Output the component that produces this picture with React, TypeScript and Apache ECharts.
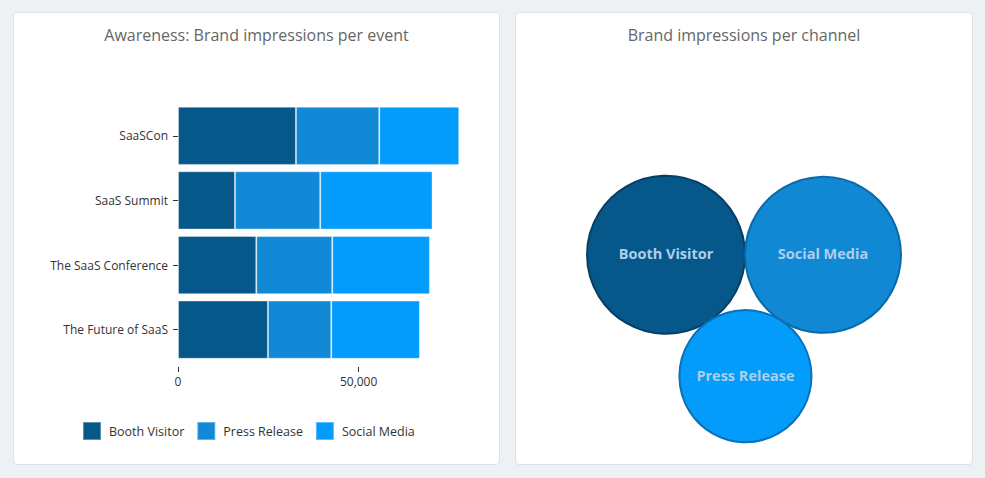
import { useEffect, useRef } from "react";
import * as echarts from "echarts";

// Impressions per event, split by channel
const events = ["SaaSCon", "SaaS Summit", "The SaaS Conference", "The Future of SaaS"];
const boothVisitor = [32650, 15770, 21670, 24900];
const pressRelease = [23050, 23600, 21030, 17520];
const socialMedia = [22140, 31080, 27030, 24540];
const xTickValues = [0, 50000];

// Impressions per channel (bubble areas)
const channels = ["Booth Visitor", "Social Media", "Press Release"];
const channelImpressions = [62400, 60800, 43600];

const FONT = '"Open Sans", "Noto Sans", sans-serif';
const CHANNEL_COLORS: Record<string, string> = {
  "Booth Visitor": "#07588a",
  "Press Release": "#1189d6",
  "Social Media": "#039cfd",
};
const BUBBLE_FILL = ["#07588a", "#1188d4", "#049cfb"];
const BUBBLE_STROKE = ["#043f64", "#0b69a8", "#0a70ba"];

const titleStyle = {
  fontFamily: FONT,
  fontSize: 16,
  fontWeight: "normal" as const,
  color: "#666666",
};

function BarChart() {
  const ref = useRef<HTMLDivElement>(null);
  useEffect(() => {
    const chart = echarts.init(ref.current!, null, { renderer: "svg" });
    const mkSeries = (name: string, data: number[]) => ({
      name,
      type: "bar",
      stack: "total",
      data,
      barCategoryGap: "10%",
      itemStyle: {
        color: CHANNEL_COLORS[name],
        borderColor: "rgba(255,255,255,0.35)",
        borderWidth: 1,
      },
    });
    chart.setOption({
      animation: false,
      title: {
        text: "Awareness: Brand impressions per event",
        left: "center",
        top: 9,
        textStyle: titleStyle,
      },
      legend: {
        left: 63,
        top: 403,
        icon: "rect",
        itemWidth: 18,
        itemHeight: 18,
        itemGap: 12,
        data: ["Booth Visitor", "Press Release", "Social Media"],
        textStyle: {
          fontFamily: FONT,
          fontSize: 12.5,
          color: "#333333",
          padding: [0, 0, 0, 3],
        },
      },
      grid: { left: 164, top: 90.5, width: 289, height: 258.5 },
      xAxis: {
        type: "value",
        min: 0,
        max: 80000,
        interval: 50000,
        offset: 5,
        axisLine: { show: false },
        axisTick: {
          show: true,
          length: 5,
          customValues: xTickValues,
          lineStyle: { color: "#333333" },
        },
        axisLabel: {
          customValues: xTickValues,
          margin: 8,
          color: "#333333",
          fontFamily: FONT,
          fontSize: 12,
          formatter: (v: number) => v.toLocaleString("en-US"),
        },
        splitLine: { show: false },
      },
      yAxis: {
        type: "category",
        inverse: true,
        data: events,
        axisLine: { show: false },
        axisTick: {
          show: true,
          alignWithLabel: true,
          length: 5,
          lineStyle: { color: "#333333" },
        },
        axisLabel: {
          margin: 10,
          color: "#333333",
          fontFamily: FONT,
          fontSize: 12,
        },
      },
      series: [
        mkSeries("Booth Visitor", boothVisitor),
        mkSeries("Press Release", pressRelease),
        mkSeries("Social Media", socialMedia),
      ],
    });
    return () => chart.dispose();
  }, []);
  return <div ref={ref} style={{ width: 485, height: 451 }} />;
}

// Packs three mutually tangent circles: first two side by side, third below both.
function packBubbles(values: number[], maxR: number, cx: number, cy: number) {
  const vmax = Math.max(...values);
  const r = values.map((v) => maxR * Math.sqrt(v / vmax));
  const [rA, rB, rC] = r;
  const d = rA + rB;
  const dA = rA + rC;
  const dB = rB + rC;
  const x = (dA * dA - dB * dB + d * d) / (2 * d);
  const y = Math.sqrt(Math.max(0, dA * dA - x * x));
  const local = [
    [0, 0],
    [d, 0],
    [x, y],
  ];
  const minX = -rA;
  const maxX = d + rB;
  const minY = Math.min(-rA, -rB);
  const maxY = y + rC;
  const ox = cx - (minX + maxX) / 2;
  const oy = cy - (minY + maxY) / 2;
  return local.map(([px, py], i) => ({ x: px + ox, y: py + oy, r: r[i] }));
}

function BubbleChart() {
  const ref = useRef<HTMLDivElement>(null);
  useEffect(() => {
    const chart = echarts.init(ref.current!, null, { renderer: "svg" });
    chart.setOption({
      animation: false,
      title: {
        text: "Brand impressions per channel",
        left: "center",
        top: 9,
        textStyle: titleStyle,
      },
      series: [
        {
          type: "custom",
          coordinateSystem: "none",
          data: channelImpressions.map((v, i) => ({ name: channels[i], value: v })),
          renderItem: (params: any, api: any) => {
            const i = params.dataIndex;
            const layout = packBubbles(channelImpressions, 79, api.getWidth() / 2, 296);
            const b = layout[i];
            return {
              type: "group",
              children: [
                {
                  type: "circle",
                  shape: { cx: b.x, cy: b.y, r: b.r },
                  style: { fill: BUBBLE_FILL[i], stroke: BUBBLE_STROKE[i], lineWidth: 2 },
                },
                {
                  type: "text",
                  style: {
                    text: channels[i],
                    x: b.x,
                    y: b.y - 1,
                    align: "center",
                    verticalAlign: "middle",
                    fill: "#abcfec",
                    fontFamily: FONT,
                    fontSize: 14.5,
                    fontWeight: "bold",
                  },
                },
              ],
            };
          },
        },
      ],
    });
    return () => chart.dispose();
  }, []);
  return <div ref={ref} style={{ width: 456, height: 451 }} />;
}

const cardStyle = (left: number, width: number): React.CSSProperties => ({
  position: "absolute",
  left,
  top: 12,
  width,
  height: 453,
  boxSizing: "border-box",
  border: "1px solid #dde1e5",
  borderRadius: 4,
  background: "#ffffff",
  overflow: "hidden",
});

export default function App() {
  return (
    <div style={{ position: "fixed", inset: 0, background: "#eef1f3" }}>
      <div style={cardStyle(13, 487)}>
        <BarChart />
      </div>
      <div style={cardStyle(515, 458)}>
        <BubbleChart />
      </div>
    </div>
  );
}
